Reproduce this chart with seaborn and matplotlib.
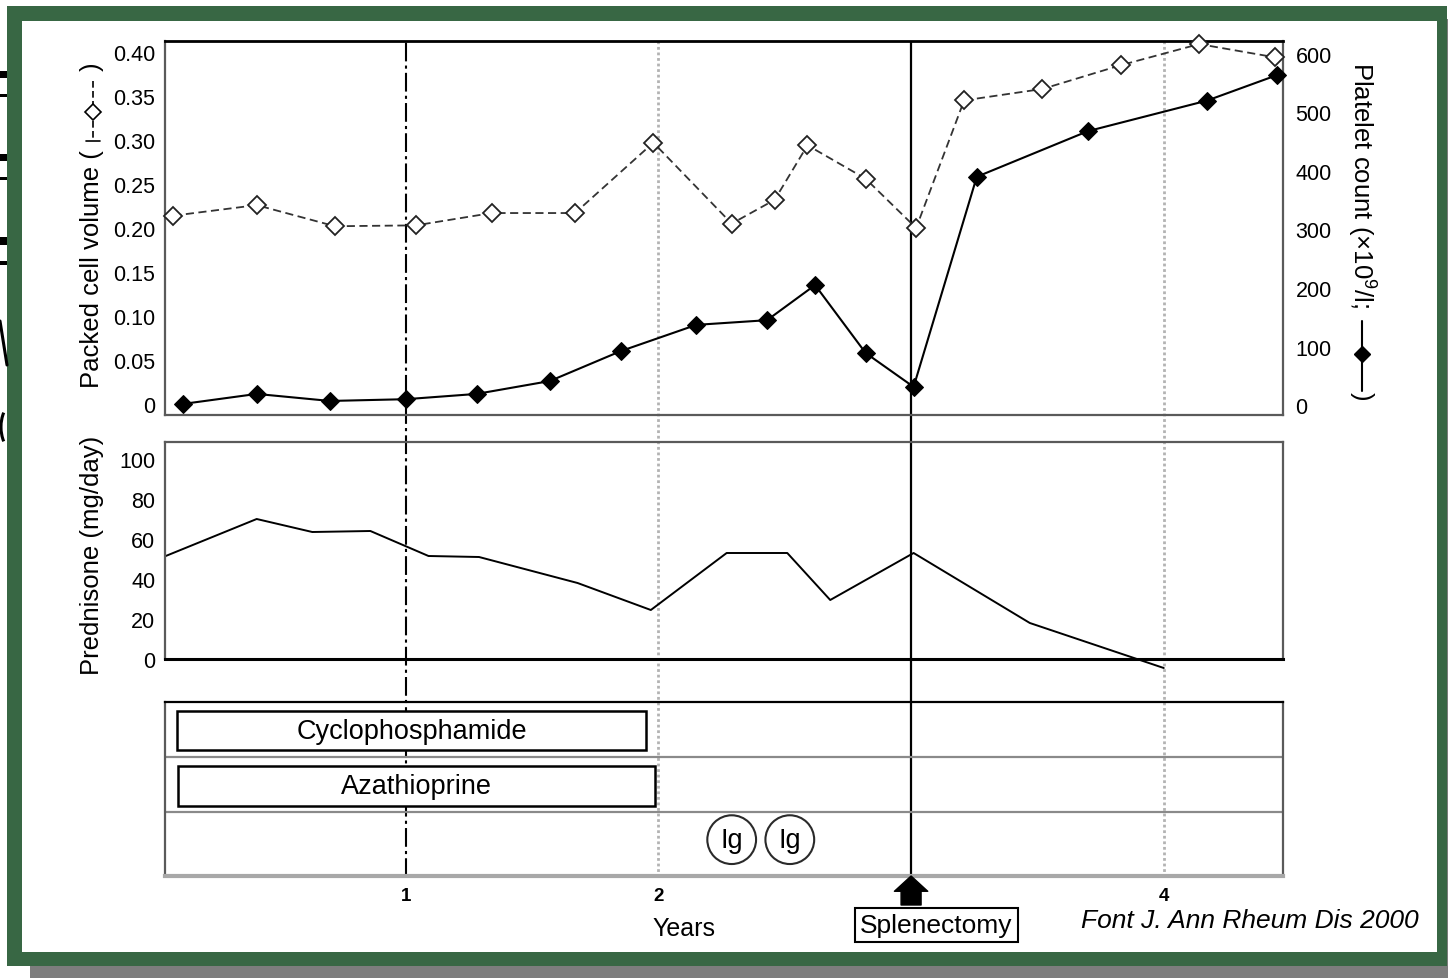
import numpy as np
import matplotlib
matplotlib.use("Agg")
import matplotlib.pyplot as plt
import seaborn as sns
from matplotlib.lines import Line2D
from matplotlib.patches import Rectangle, Arc

# ---------------- data ----------------
# Packed cell volume (fraction) by year of follow-up
pcv_years = [0.08, 0.41, 0.72, 1.04, 1.34, 1.67, 1.98, 2.29, 2.46, 2.59, 2.82,
             3.02, 3.21, 3.52, 3.83, 4.14, 4.44]
pcv_values = [0.214, 0.226, 0.202, 0.203, 0.217, 0.217, 0.297, 0.205, 0.232,
              0.294, 0.256, 0.200, 0.345, 0.358, 0.385, 0.409, 0.394]

# Platelet count (x10^9/l)
platelet_years = [0.12, 0.41, 0.70, 1.00, 1.28, 1.57, 1.85, 2.15, 2.43, 2.62,
                  2.82, 3.01, 3.26, 3.70, 4.17, 4.45]
platelet_values = [2, 19, 7, 10, 19, 41, 92, 137, 145, 205, 89, 31, 390, 468,
                   520, 564]

# Prednisone dose (mg/day)
pred_years = [0.05, 0.41, 0.63, 0.86, 1.09, 1.29, 1.68, 1.97, 2.27, 2.51, 2.68,
              3.01, 3.47, 4.00]
pred_values = [51.5, 70, 63.5, 64, 51.5, 51, 38, 24.5, 53, 53, 29.5, 53, 18, -4.5]

# Other treatments
drugs = ["Cyclophosphamide", "Azathioprine"]
drug_start = [0.095, 0.10]
drug_end = [1.95, 1.985]
ig_years = [2.29, 2.52]
ig_label = "Ig"
splenectomy_year = 3.0

pcv_ticks = [0, 0.05, 0.10, 0.15, 0.20, 0.25, 0.30, 0.35, 0.40]
pcv_ticklabels = ["0", "0.05", "0.10", "0.15", "0.20", "0.25", "0.30", "0.35", "0.40"]
platelet_ticks = [0, 100, 200, 300, 400, 500, 600]
pred_ticks = [0, 20, 40, 60, 80, 100]
year_ticks = [1, 2, 4]
year_ticklabels = ["1", "2", "4"]

# ---------------- style ----------------
sns.set_style("white")
plt.rcParams["font.family"] = ["Liberation Sans", "DejaVu Sans"]
plt.rcParams["mathtext.fontset"] = "custom"
plt.rcParams["mathtext.rm"] = "Liberation Sans"
for key in ("text.color", "axes.labelcolor", "xtick.color", "ytick.color"):
    plt.rcParams[key] = "black"

W, H = 1448, 979
fig = plt.figure(figsize=(W / 100, H / 100), dpi=100)
fig.patch.set_facecolor("white")


def fx(x):
    return x / W


def fy(y):
    return 1 - y / H


def rect_px(x0, y0, x1, y1, **kw):
    return Rectangle((fx(x0), fy(y1)), (x1 - x0) / W, (y1 - y0) / H,
                     transform=fig.transFigure, **kw)


# slide frame
green = "#386744"
fig.patches.append(rect_px(30, 966, 1448, 979, fc="#7d7d7d", ec="none", zorder=-12))
fig.patches.append(rect_px(1446, 20, 1448, 979, fc="#7d7d7d", ec="none", zorder=-12))
fig.patches.append(rect_px(7, 7, 1447, 967, fc=green, ec="none", zorder=-11))
fig.patches.append(rect_px(22, 22, 1437, 953, fc="white", ec="none", zorder=-10))

# glyph fragments peeking out at the left edge
for (y0, y1) in [(72, 79), (95, 98), (155, 162), (178, 181), (238, 246), (262, 266)]:
    fig.patches.append(rect_px(0, y0, 7, y1, fc="black", ec="none", zorder=-9))
fig.lines.append(Line2D([fx(0), fx(7)], [fy(322), fy(366)], transform=fig.transFigure,
                        color="black", lw=2.2, zorder=-9))
fig.patches.append(Arc((fx(16), fy(428)), 30 / W, 50 / H, theta1=120, theta2=240,
                       transform=fig.transFigure, color="black", lw=2.2, zorder=-9))

XLIM = (0.0471, 4.472)
L, R = 165, 1283

# vertical reference lines across all panels
axo = fig.add_axes([fx(L), fy(878), (R - L) / W, (878 - 42) / H], zorder=-1)
axo.set_xlim(*XLIM)
axo.axis("off")
axo.axvline(1, color="black", lw=1.5, ls=(0, (9, 2, 1.5, 2)))
axo.axvline(2, color="#b3b3b3", lw=2, ls=(0, (1, 1)))
axo.axvline(4, color="#b3b3b3", lw=2, ls=(0, (1, 1)))
axo.axvline(splenectomy_year, color="black", lw=1.6)

ax1 = fig.add_axes([fx(L), fy(416), (R - L) / W, (416 - 42) / H])
ax2 = fig.add_axes([fx(L), fy(660), (R - L) / W, (660 - 443) / H])
ax3 = fig.add_axes([fx(L), fy(877), (R - L) / W, (877 - 703) / H])
for ax in (ax1, ax2, ax3):
    ax.set_facecolor("none")
    ax.set_xlim(*XLIM)
    for s in ax.spines.values():
        s.set_color("#5a5a5a")
        s.set_linewidth(1.6)

# ---- top panel: packed cell volume and platelets ----
ax1.set_ylim(-0.0125, 0.4125)
sns.lineplot(x=pcv_years, y=pcv_values, ax=ax1, color="#333333", lw=1.3,
             linestyle=(0, (4.5, 2.5)), marker="D", markersize=9,
             markerfacecolor="white", markeredgecolor="#222222",
             markeredgewidth=1.3, clip_on=False, zorder=3)
ax1r = ax1.twinx()
ax1r.set_ylim(-17, 622)
sns.lineplot(x=platelet_years, y=platelet_values, ax=ax1r, color="black", lw=1.5,
             marker="D", markersize=9, markerfacecolor="black",
             markeredgecolor="black", clip_on=False, zorder=3)
for s in ax1r.spines.values():
    s.set_visible(False)
ax1.spines["top"].set_color("black")
ax1.spines["top"].set_linewidth(2)

ax1.set_yticks(pcv_ticks, labels=pcv_ticklabels)
ax1.set_xticks([])
ax1.tick_params(axis="y", length=0, pad=7, labelsize=15.5)
ax1r.set_yticks(platelet_ticks, labels=[str(v) for v in platelet_ticks])
ax1r.tick_params(axis="y", length=0, pad=9, labelsize=15.5)
for ax in (ax1, ax1r):
    ax.set_xlabel("")
    ax.set_ylabel("")

# ---- middle panel: prednisone ----
ax2.set_ylim(0, 108.5)
sns.lineplot(x=pred_years, y=pred_values, ax=ax2, color="black", lw=1.4,
             clip_on=False)
ax2.spines["bottom"].set_color("black")
ax2.spines["bottom"].set_linewidth(2.2)
ax2.set_yticks(pred_ticks, labels=[str(v) for v in pred_ticks])
ax2.set_xticks([])
ax2.tick_params(axis="y", length=0, pad=7, labelsize=15.5)
ax2.set_xlabel("")
ax2.set_ylabel("")

# ---- bottom panel: other treatments ----
ax3.set_ylim(3.16, 0)
ax3.axhline(1, color="#8a8a8a", lw=1.6)
ax3.axhline(2, color="#8a8a8a", lw=1.6)
rows = [0.52, 1.53]
heights = [0.71, 0.727]
ax3.barh(rows, np.subtract(drug_end, drug_start), left=drug_start, height=heights,
         color="white", edgecolor="black", linewidth=1.8, zorder=3)
for name, y, a, b in zip(drugs, rows, drug_start, drug_end):
    ax3.text((a + b) / 2, y, name, ha="center", va="center", fontsize=19.5, zorder=4)
for yr in ig_years:
    ax3.text(yr, 2.5, ig_label, ha="center", va="center", fontsize=19.5, zorder=4,
             bbox=dict(boxstyle="circle,pad=0.42", fc="white", ec="#2a2a2a", lw=1.5))
ax3.spines["top"].set_color("black")
ax3.spines["bottom"].set_color("#a8a8a8")
ax3.spines["bottom"].set_linewidth(3)
ax3.set_yticks([])
ax3.set_xticks(year_ticks, labels=year_ticklabels)
ax3.tick_params(axis="x", length=0, pad=8, labelsize=13.5)
for t in ax3.get_xticklabels():
    t.set_fontweight("bold")

# splenectomy marker
ax3.annotate("", xy=(splenectomy_year, 0), xycoords=("data", "axes fraction"),
             xytext=(splenectomy_year, -29 / 174), textcoords=("data", "axes fraction"),
             arrowprops=dict(arrowstyle="simple,head_width=1.2,head_length=0.55,tail_width=0.72",
                             fc="black", ec="black", shrinkA=0, shrinkB=0,
                             mutation_scale=20),
             annotation_clip=False)
ax3.annotate("Splenectomy", xy=(splenectomy_year, 0), xycoords=("data", "axes fraction"),
             xytext=(25, -49), textcoords="offset pixels", ha="center", va="center",
             fontsize=19, annotation_clip=False,
             bbox=dict(boxstyle="square,pad=0.2", fc="white", ec="black", lw=1.5))

# ---- axis titles ----
fig.text(fx(684), fy(929), "Years", ha="center", va="center", fontsize=18)

fig.text(fx(92), fy(388), "Packed cell volume (", rotation=90, ha="center",
         va="bottom", fontsize=18.5)
fig.lines.append(Line2D([fx(93), fx(93)], [fy(82), fy(142)], transform=fig.transFigure,
                        color="black", lw=1.2, ls=(0, (4, 2))))
fig.lines.append(Line2D([fx(86), fx(100)], [fy(142), fy(142)], transform=fig.transFigure,
                        color="black", lw=1.2))
fig.lines.append(Line2D([fx(93)], [fy(113)], transform=fig.transFigure, marker="D",
                        markersize=8, markerfacecolor="white", markeredgecolor="black",
                        markeredgewidth=1.2))
fig.text(fx(92), fy(62), ")", rotation=90, ha="center", va="top", fontsize=18.5)

fig.text(fx(1362), fy(62), "Platelet count (\u00d710$^{9}$/l; ", rotation=270,
         ha="center", va="top", fontsize=18.5)
fig.lines.append(Line2D([fx(1362), fx(1362)], [fy(322), fy(392)],
                        transform=fig.transFigure, color="black", lw=1.5))
fig.lines.append(Line2D([fx(1362)], [fy(355)], transform=fig.transFigure, marker="D",
                        markersize=8, markerfacecolor="black", markeredgecolor="black"))
fig.text(fx(1362), fy(392), ")", rotation=270, ha="center", va="top", fontsize=18.5)

fig.text(fx(92), fy(555), "Prednisone (mg/day)", rotation=90, ha="center",
         va="center", fontsize=18.5)

fig.text(fx(1250), fy(921), "Font J. Ann Rheum Dis 2000", ha="center", va="center",
         fontsize=19, style="italic")

fig.savefig("out.png", dpi=100)
